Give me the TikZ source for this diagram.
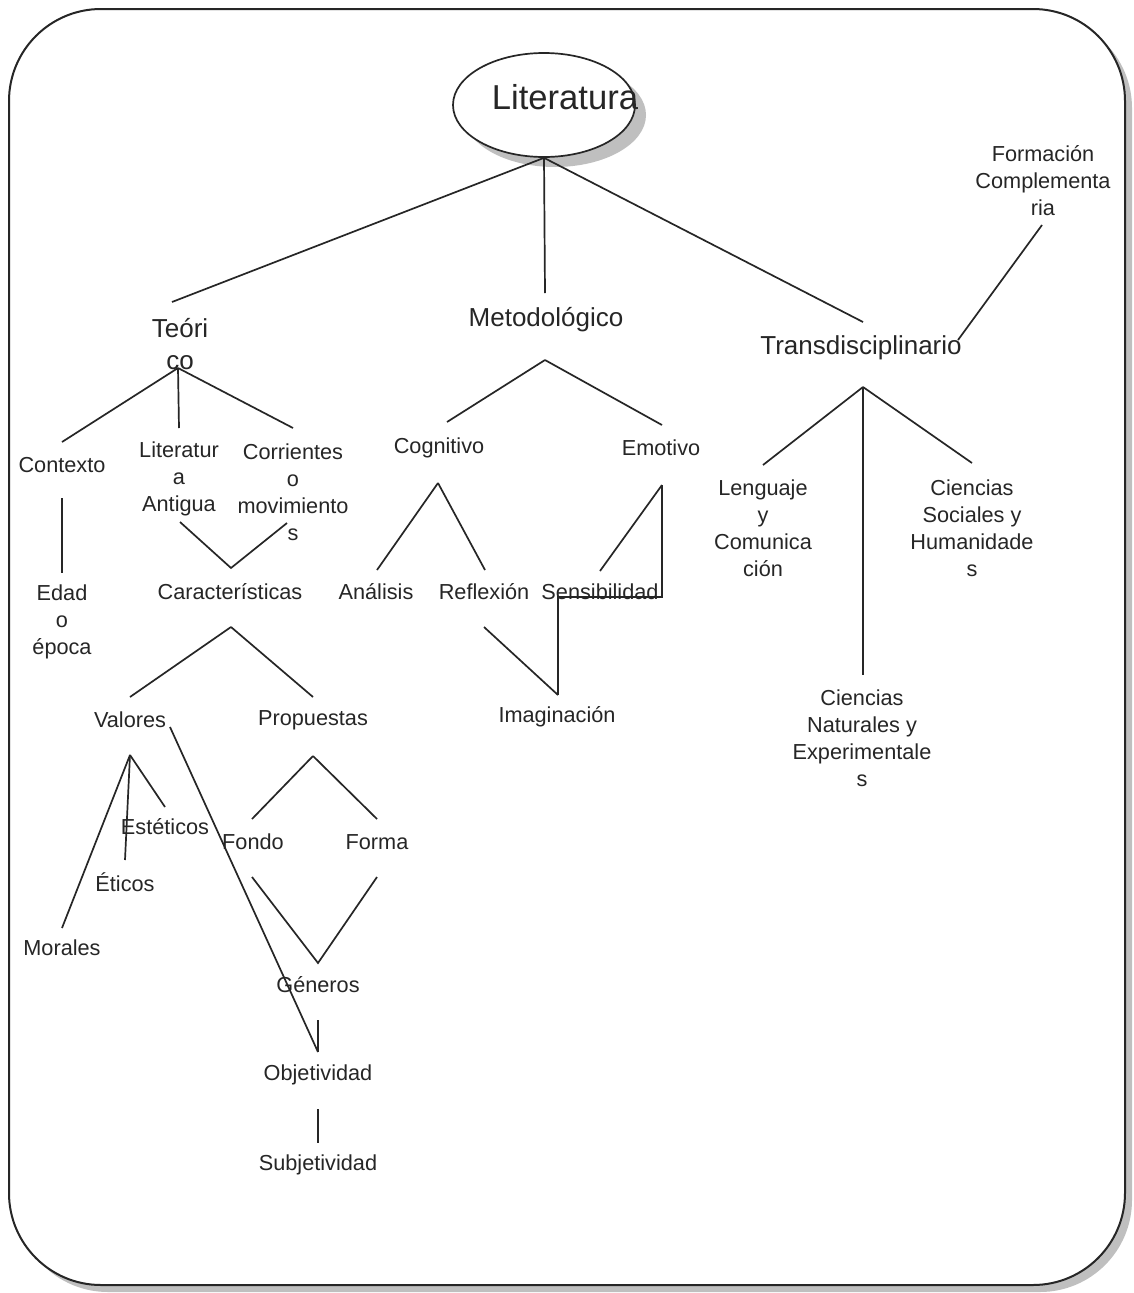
\documentclass[tikz,border=0pt]{standalone}
\usepackage{fontspec}
\setmainfont{Liberation Sans}
\usetikzlibrary{shapes.geometric}
\begin{document}
\begin{tikzpicture}[x=1pt,y=-1pt,
  ln/.style={line width=1.7pt, draw=black!85},
  sm/.style={font=\fontsize{21.7}{27}\selectfont, align=center, inner sep=0pt, text=black!85},
  md/.style={font=\fontsize{26}{32}\selectfont, align=center, inner sep=0pt, text=black!85},
  lg/.style={font=\fontsize{34.6}{40}\selectfont, inner sep=0pt, text=black!85},
  shadowfill/.style={fill=gray!50, draw=none}]
\useasboundingbox (0,0) rectangle (1133,1293);
% frame with shadow
\fill[shadowfill, rounded corners=92pt] (16,16) rectangle (1132,1292);
\draw[line width=2pt, draw=black!85, fill=white, rounded corners=92pt] (9,9) rectangle (1125,1285);
% ellipse with shadow
\node[ellipse, shadowfill, minimum width=182pt, minimum height=104pt, inner sep=0pt] (litsh) at (555,115) {};
\node[ellipse, draw=black!85, line width=1.7pt, fill=white, minimum width=182pt, minimum height=104pt, inner sep=0pt] (litell) at (544,105) {};
\node[lg] (lit) at (565,97) {Literatura};
% nodes
\node[md] (teo) at (180,344) {Teóri\\co};
\node[md] (met) at (546,320) {Metodológico};
\node[md] (tra) at (861,348) {Transdisciplinario};
\node[sm] (for) at (1043,181) {Formación\\Complementa\\ria};
\node[sm] (ctx) at (62,465) {Contexto};
\node[sm] (edad) at (62,622) {Edad\\o\\época};
\node[sm] (lant) at (179,479) {Literatur\\a\\Antigua};
\node[sm] (corr) at (293,492) {Corrientes\\o\\movimiento\\s};
\node[sm] (car) at (230,592) {Características};
\node[sm] (val) at (130,720) {Valores};
\node[sm] (pro) at (313,720) {Propuestas};
\node[sm] (est) at (165,827) {Estéticos};
\node[sm] (eti) at (125,882) {Éticos};
\node[sm] (mor) at (62,948) {Morales};
\node[sm] (fon) at (253,842) {Fondo};
\node[sm] (fma) at (377,842) {Forma};
\node[sm] (gen) at (318,985) {Géneros};
\node[sm] (obj) at (318,1075) {Objetividad};
\node[sm] (sub) at (318,1165) {Subjetividad};
\node[sm] (cog) at (439,448) {Cognitivo};
\node[sm] (emo) at (661,448) {Emotivo};
\node[sm] (ana) at (376,592) {Análisis};
\node[sm] (ref) at (484,592) {Reflexión};
\node[sm] (sen) at (600,592) {Sensibilidad};
\node[sm] (ima) at (557,717) {Imaginación};
\node[sm] (len) at (763,528) {Lenguaje\\y\\Comunica\\ción};
\node[sm] (soc) at (972,528) {Ciencias\\Sociales y\\Humanidade\\s};
\node[sm] (nat) at (862,738) {Ciencias\\Naturales y\\Experimentale\\s};
% connector coordinates
\coordinate (teoT) at (172,302);
\coordinate (metT) at (545,293);
\coordinate (traT) at (863,322);
\coordinate (forB) at (1042,225);
\coordinate (traR) at (958,340);
\coordinate (teoA) at (178,368);
\coordinate (ctxT) at (62,442);
\coordinate (lantT) at (179,428);
\coordinate (corrT) at (293,428);
\coordinate (ctxB) at (62,498);
\coordinate (edadT) at (62,573);
\coordinate (lantB) at (180,522);
\coordinate (corrB) at (287,523);
\coordinate (carT) at (231,568);
\coordinate (carA) at (231,627);
\coordinate (valT) at (130,697);
\coordinate (proT) at (313,697);
\coordinate (valA) at (130,755);
\coordinate (morT) at (62,928);
\coordinate (etiT) at (125,860);
\coordinate (estT) at (165,807);
\coordinate (valR) at (170,727);
\coordinate (objT) at (318,1052);
\coordinate (proA) at (313,756);
\coordinate (fonT) at (252,819);
\coordinate (fmaT) at (377,819);
\coordinate (fonB) at (252,877);
\coordinate (fmaB) at (377,877);
\coordinate (genT) at (318,963);
\coordinate (genB) at (318,1020);
\coordinate (objB) at (318,1109);
\coordinate (subT) at (318,1143);
\coordinate (metA) at (545,360);
\coordinate (cogT) at (447,422);
\coordinate (emoT) at (662,425);
\coordinate (cogA) at (438,483);
\coordinate (anaT) at (377,570);
\coordinate (refT) at (485,570);
\coordinate (emoA) at (662,485);
\coordinate (senT) at (600,571);
\coordinate (elb1) at (662,597);
\coordinate (elb2) at (558,597);
\coordinate (imaT) at (558,695);
\coordinate (refB) at (484,627);
\coordinate (traA) at (863,387);
\coordinate (lenT) at (763,465);
\coordinate (socT) at (972,463);
\coordinate (natT) at (863,675);
% connectors
\draw[ln] (litell.south) -- (teoT);
\draw[ln] (litell.south) -- (metT);
\draw[ln] (litell.south) -- (traT);
\draw[ln] (forB) -- (traR);
\draw[ln] (teoA) -- (ctxT);
\draw[ln] (teoA) -- (lantT);
\draw[ln] (teoA) -- (corrT);
\draw[ln] (ctxB) -- (edadT);
\draw[ln] (lantB) -- (carT) -- (corrB);
\draw[ln] (carA) -- (valT);
\draw[ln] (carA) -- (proT);
\draw[ln] (valA) -- (morT);
\draw[ln] (valA) -- (etiT);
\draw[ln] (valA) -- (estT);
\draw[ln] (valR) -- (objT);
\draw[ln] (proA) -- (fonT);
\draw[ln] (proA) -- (fmaT);
\draw[ln] (fonB) -- (genT) -- (fmaB);
\draw[ln] (genB) -- (objT);
\draw[ln] (objB) -- (subT);
\draw[ln] (metA) -- (cogT);
\draw[ln] (metA) -- (emoT);
\draw[ln] (cogA) -- (anaT);
\draw[ln] (cogA) -- (refT);
\draw[ln] (emoA) -- (senT);
\draw[ln] (emoA) -- (elb1) -- (elb2) -- (imaT);
\draw[ln] (refB) -- (imaT);
\draw[ln] (traA) -- (lenT);
\draw[ln] (traA) -- (socT);
\draw[ln] (traA) -- (natT);
\end{tikzpicture}
\end{document}
